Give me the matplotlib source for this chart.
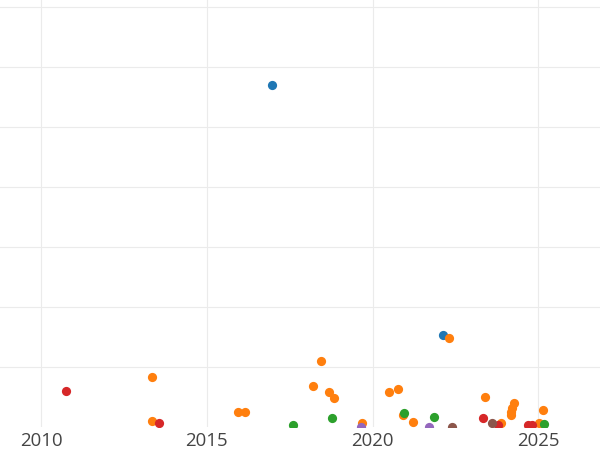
import matplotlib
matplotlib.use('Agg')
from matplotlib import pyplot as plt

# fonts: Open Sans first, DejaVu as fallback
matplotlib.rcParams['font.family'] = ['Open Sans', 'DejaVu Sans']

# one group of points per colour (year, value)
blue_year = [2016.96, 2022.11]
blue_val = [56.9, 15.2]

orange_year = [2013.34, 2013.34, 2015.95, 2016.15, 2018.20, 2018.44, 2018.69, 2018.84,
               2019.69, 2020.50, 2020.78, 2020.93, 2021.21, 2022.31, 2023.40, 2023.88,
               2024.27, 2024.19, 2024.17, 2024.17, 2025.13, 2025.03]
orange_val = [8.3, 0.95, 2.5, 2.5, 6.8, 10.95, 5.8, 4.7,
              0.57, 5.8, 6.2, 1.95, 0.7, 14.7, 4.95, 0.57,
              4.0, 3.1, 2.5, 2.0, 2.8, 0.67]

green_year = [2017.59, 2018.78, 2020.96, 2021.84, 2025.17]
green_val = [0.28, 1.45, 2.33, 1.67, 0.45]

red_year = [2010.75, 2013.57, 2023.34, 2023.79, 2024.70, 2024.80]
red_val = [5.9, 0.62, 1.45, 0.28, 0.28, 0.28]

purple_year = [2019.65, 2021.71]
purple_val = [0.03, 0.0]

brown_year = [2022.38, 2023.61]
brown_val = [0.0, 0.57]

series = [
    (blue_year, blue_val, '#1f77b4'),
    (orange_year, orange_val, '#ff7f0e'),
    (green_year, green_val, '#2ca02c'),
    (red_year, red_val, '#d62728'),
    (purple_year, purple_val, '#9467bd'),
    (brown_year, brown_val, '#8c564b'),
]

fig = plt.figure(figsize=(6, 4.5), dpi=100)
ax = fig.add_axes([0, 23.3 / 450, 1, 426.7 / 450])

for xs, ys, c in series:
    ax.scatter(xs, ys, s=44, color=c, linewidths=0, zorder=3)

ax.set_xlim(2008.764, 2026.857)
ax.set_ylim(0, 71.1)
ax.set_xticks([2010, 2015, 2020, 2025])
ax.set_yticks([10, 20, 30, 40, 50, 60, 70])
ax.set_yticklabels([])
ax.grid(True, color='#ebebeb', linewidth=0.8)
ax.set_axisbelow(True)
ax.tick_params(axis='both', length=0)
ax.tick_params(axis='x', labelsize=13.4, labelcolor='#444444', pad=4)
for s in ax.spines.values():
    s.set_visible(False)

plt.savefig('out.png', dpi=100)
